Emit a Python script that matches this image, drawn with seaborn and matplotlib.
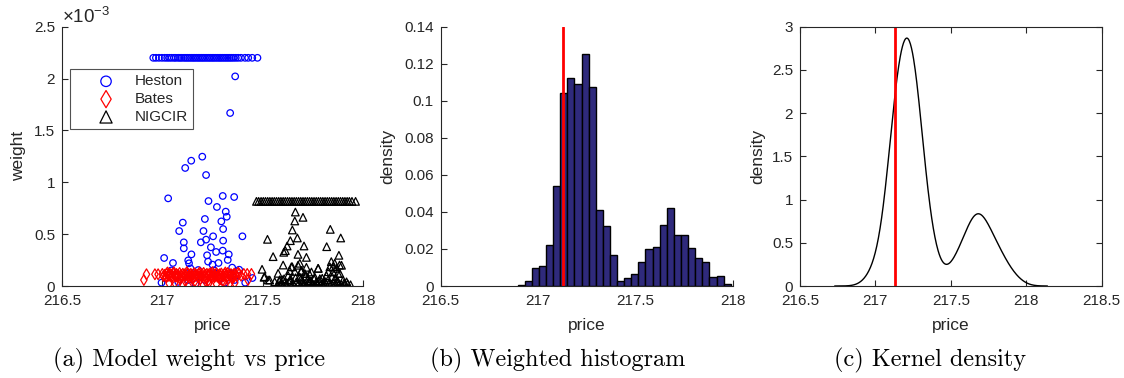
import numpy as np
import pandas as pd
import matplotlib
matplotlib.use("Agg")
import matplotlib.pyplot as plt
import seaborn as sns
from matplotlib.ticker import FuncFormatter, MultipleLocator

# ---------------- data ----------------
# Panel (a): model weights (in units of 1e-3) vs price
heston_x = [216.955, 216.968, 216.983, 216.998, 217.012, 217.024, 217.035, 217.046, 217.058, 217.067,
            217.079, 217.088, 217.097, 217.108, 217.117, 217.126, 217.135, 217.144, 217.153, 217.161,
            217.170, 217.179, 217.187, 217.196, 217.204, 217.213, 217.222, 217.231, 217.239, 217.248,
            217.256, 217.265, 217.274, 217.283, 217.291, 217.300, 217.309, 217.318, 217.327, 217.336,
            217.345, 217.355, 217.366, 217.378, 217.392, 217.412, 217.428, 217.448, 217.474,
            217.363, 217.338, 217.199, 217.144, 217.114, 217.218, 217.029, 217.301, 217.358, 217.230,
            217.272, 217.316, 217.321, 217.212, 217.102, 217.294, 217.205, 217.084, 217.303, 217.399,
            217.253, 217.107, 217.303, 217.218, 217.192, 217.107, 217.242, 217.145, 217.268, 217.301,
            217.331, 217.009, 217.129, 217.326, 217.223, 217.228, 217.053, 217.133, 217.250, 217.280,
            217.140, 217.348, 217.383, 217.257, 217.179, 217.449, 217.413, 216.996, 217.079, 217.212,
            217.311, 217.361, 217.129, 217.165, 217.045, 217.265, 217.190, 217.340]
heston_w = [2.2, 2.2, 2.2, 2.2, 2.2, 2.2, 2.2, 2.2, 2.2, 2.2,
            2.2, 2.2, 2.2, 2.2, 2.2, 2.2, 2.2, 2.2, 2.2, 2.2,
            2.2, 2.2, 2.2, 2.2, 2.2, 2.2, 2.2, 2.2, 2.2, 2.2,
            2.2, 2.2, 2.2, 2.2, 2.2, 2.2, 2.2, 2.2, 2.2, 2.2,
            2.2, 2.2, 2.2, 2.2, 2.2, 2.2, 2.2, 2.2, 2.2,
            2.021, 1.668, 1.247, 1.208, 1.138, 1.070, 0.845, 0.868, 0.858, 0.819,
            0.762, 0.717, 0.668, 0.646, 0.611, 0.623, 0.530, 0.530, 0.549, 0.479,
            0.479, 0.421, 0.437, 0.447, 0.421, 0.363, 0.373, 0.305, 0.328, 0.341,
            0.305, 0.270, 0.247, 0.251, 0.296, 0.235, 0.222, 0.219, 0.206, 0.222,
            0.170, 0.177, 0.157, 0.151, 0.154, 0.077, 0.032, 0.032, 0.040, 0.058,
            0.032, 0.058, 0.058, 0.020, 0.150, 0.120, 0.090, 0.100]

bates_x = [216.908, 216.921, 216.963, 216.979, 217.000, 217.012, 217.021, 217.030, 217.038, 217.046,
           217.054, 217.062, 217.070, 217.078, 217.086, 217.094, 217.102, 217.110, 217.118, 217.126,
           217.134, 217.142, 217.150, 217.158, 217.166, 217.174, 217.182, 217.190, 217.198, 217.206,
           217.214, 217.222, 217.230, 217.238, 217.246, 217.254, 217.262, 217.270, 217.278, 217.286,
           217.294, 217.302, 217.310, 217.318, 217.326, 217.334, 217.342, 217.350, 217.358, 217.366,
           217.383, 217.406, 217.423, 217.444, 217.427,
           217.034, 217.062, 217.100, 217.129, 217.170, 217.204, 217.233, 217.270, 217.306, 217.336,
           217.361, 217.050, 217.090, 217.150, 217.190, 217.245, 217.290, 217.330, 217.115, 217.215,
           217.020, 217.075, 217.140, 217.180, 217.260, 217.320, 217.355, 217.230, 217.160, 217.300,
           217.005, 217.017, 217.033, 217.049, 217.066, 217.082, 217.098, 217.113, 217.129, 217.146,
           217.162, 217.178, 217.194, 217.210, 217.226, 217.242, 217.258, 217.274, 217.290, 217.306,
           217.322, 217.338, 217.354, 217.371, 217.392, 217.026, 217.058, 217.122, 217.186, 217.250,
           217.314, 217.378, 217.087, 217.154, 217.218, 217.282, 217.346]
bates_w = [0.058, 0.113, 0.113, 0.113, 0.116, 0.108, 0.120, 0.105, 0.118, 0.110,
           0.122, 0.104, 0.116, 0.109, 0.125, 0.106, 0.118, 0.112, 0.103, 0.121,
           0.110, 0.117, 0.105, 0.124, 0.113, 0.108, 0.119, 0.102, 0.115, 0.126,
           0.107, 0.117, 0.111, 0.122, 0.104, 0.116, 0.109, 0.123, 0.106, 0.114,
           0.120, 0.103, 0.117, 0.110, 0.125, 0.108, 0.115, 0.104, 0.119, 0.112,
           0.116, 0.116, 0.116, 0.116, 0.058,
           0.026, 0.032, 0.019, 0.000, 0.026, 0.010, 0.032, 0.019, 0.042, 0.026,
           0.032, 0.070, 0.065, 0.072, 0.068, 0.075, 0.066, 0.070, 0.045, 0.048,
           0.085, 0.088, 0.090, 0.082, 0.086, 0.084, 0.080, 0.055, 0.040, 0.050,
           0.095, 0.091, 0.097, 0.093, 0.090, 0.096, 0.092, 0.094, 0.089, 0.097,
           0.093, 0.090, 0.095, 0.091, 0.098, 0.092, 0.094, 0.090, 0.096, 0.093,
           0.091, 0.095, 0.092, 0.094, 0.100, 0.130, 0.132, 0.134, 0.131, 0.133,
           0.130, 0.128, 0.076, 0.078, 0.074, 0.077, 0.075]

nigcir_x = [217.469, 217.480, 217.492, 217.503, 217.514, 217.525, 217.536, 217.547, 217.558, 217.569,
            217.580, 217.591, 217.602, 217.613, 217.624, 217.635, 217.646, 217.657, 217.668, 217.679,
            217.690, 217.701, 217.712, 217.723, 217.734, 217.745, 217.756, 217.767, 217.778, 217.789,
            217.800, 217.811, 217.822, 217.833, 217.844, 217.855, 217.866, 217.877, 217.888, 217.899,
            217.910, 217.921, 217.932, 217.945, 217.963,
            217.663, 217.660, 217.701, 217.648, 217.673, 217.524, 217.837, 217.889, 217.638, 217.706,
            217.622, 217.819, 217.613, 217.605, 217.552, 217.676, 217.718, 217.880, 217.602, 217.647,
            217.685, 217.859, 217.851, 217.497, 217.776, 217.883, 217.577, 217.634, 217.692, 217.733,
            217.827, 217.875, 217.507, 217.535, 217.560,
            217.510, 217.527, 217.585, 217.610, 217.627, 217.635, 217.643, 217.660, 217.668, 217.676,
            217.685, 217.693, 217.700, 217.710, 217.718, 217.727, 217.735, 217.743, 217.760, 217.768,
            217.777, 217.785, 217.793, 217.810, 217.818, 217.835, 217.842, 217.850, 217.860, 217.868,
            217.876, 217.885, 217.893, 217.901, 217.918, 217.590, 217.620, 217.650, 217.700, 217.725,
            217.750, 217.770, 217.800, 217.830, 217.855, 217.880, 217.910, 217.600, 217.690, 217.740,
            217.575, 217.583, 217.596, 217.607, 217.616, 217.631, 217.641, 217.654, 217.664, 217.681,
            217.697, 217.706, 217.715, 217.731, 217.747, 217.756, 217.773, 217.781, 217.797, 217.806,
            217.814, 217.826, 217.839, 217.846, 217.864, 217.872, 217.891, 217.906, 217.924, 217.938]
nigcir_w = [0.816, 0.816, 0.816, 0.816, 0.816, 0.816, 0.816, 0.816, 0.816, 0.816,
            0.816, 0.816, 0.816, 0.816, 0.816, 0.816, 0.816, 0.816, 0.816, 0.816,
            0.816, 0.816, 0.816, 0.816, 0.816, 0.816, 0.816, 0.816, 0.816, 0.816,
            0.816, 0.816, 0.816, 0.816, 0.816, 0.816, 0.816, 0.816, 0.816, 0.816,
            0.816, 0.816, 0.816, 0.816, 0.816,
            0.713, 0.627, 0.662, 0.540, 0.463, 0.450, 0.546, 0.463, 0.437, 0.386,
            0.386, 0.379, 0.341, 0.325, 0.283, 0.305, 0.276, 0.296, 0.202, 0.186,
            0.219, 0.219, 0.186, 0.161, 0.170, 0.202, 0.122, 0.148, 0.138, 0.116,
            0.138, 0.122, 0.084, 0.058, 0.042,
            0.090, 0.058, 0.060, 0.036, 0.100, 0.055, 0.185, 0.140, 0.040, 0.200,
            0.085, 0.150, 0.040, 0.120, 0.180, 0.070, 0.030, 0.135, 0.085, 0.040,
            0.170, 0.070, 0.020, 0.045, 0.100, 0.185, 0.235, 0.135, 0.070, 0.170,
            0.040, 0.120, 0.200, 0.055, 0.040, 0.020, 0.015, 0.025, 0.010, 0.030,
            0.015, 0.025, 0.010, 0.020, 0.030, 0.015, 0.025, 0.060, 0.065, 0.050,
            0.012, 0.045, 0.022, 0.070, 0.008, 0.035, 0.062, 0.018, 0.080, 0.028,
            0.055, 0.012, 0.095, 0.040, 0.020, 0.068, 0.010, 0.050, 0.075, 0.015,
            0.035, 0.060, 0.010, 0.090, 0.025, 0.048, 0.015, 0.030, 0.020, 0.012]

# Panel (b)/(c): weighted histogram (30 equal bins between these edges)
hist_lo, hist_hi = 216.895, 217.990
hist_vals = [0.0003, 0.0027, 0.0099, 0.0106, 0.0221, 0.0542, 0.1040, 0.1125, 0.1089, 0.1251,
             0.1074, 0.0412, 0.0326, 0.0166, 0.0027, 0.0041, 0.0065, 0.0128, 0.0200, 0.0211,
             0.0331, 0.0419, 0.0277, 0.0274, 0.0205, 0.0149, 0.0128, 0.0049, 0.0052, 0.0009]
true_price = 217.13

# ---------------- style ----------------
sns.set_theme(style="white")
plt.rcParams['font.family'] = ['Liberation Sans', 'DejaVu Sans']
plt.rcParams['mathtext.fontset'] = 'custom'
plt.rcParams['mathtext.rm'] = 'Liberation Sans'
plt.rcParams['mathtext.it'] = 'Liberation Sans'
AX = '#262626'
plt.rcParams.update({
    'axes.edgecolor': AX, 'axes.linewidth': 0.8,
    'xtick.color': AX, 'ytick.color': AX,
    'xtick.direction': 'in', 'ytick.direction': 'in',
    'xtick.major.size': 4, 'ytick.major.size': 4,
    'xtick.major.width': 0.8, 'ytick.major.width': 0.8,
    'xtick.major.pad': 6, 'ytick.major.pad': 5,
    'xtick.labelsize': 11, 'ytick.labelsize': 11,
    'axes.labelsize': 12.5, 'axes.labelcolor': AX,
    'xtick.bottom': True, 'ytick.left': True,
})

W, H = 1124, 378
fig = plt.figure(figsize=(W / 100, H / 100), dpi=100)
ax1 = fig.add_axes([62 / W, 92 / H, 301 / W, 259.3 / H])
ax2 = fig.add_axes([440.7 / W, 92 / H, 292 / W, 259.3 / H])
ax3 = fig.add_axes([800 / W, 92 / H, 301.7 / W, 259.3 / H])
gfmt = FuncFormatter(lambda v, p: f'{v:g}')

# ---------------- panel (a) ----------------
sns.scatterplot(x=heston_x, y=heston_w, marker='o', s=22, fc='none', ec='blue',
                linewidth=0.9, ax=ax1, label='Heston')
sns.scatterplot(x=bates_x, y=bates_w, marker='d', s=30, fc='none', ec='red',
                linewidth=0.9, ax=ax1, label='Bates')
sns.scatterplot(x=nigcir_x, y=nigcir_w, marker='^', s=30, fc='none', ec='black',
                linewidth=0.9, ax=ax1, label='NIGCIR')
ax1.set_xlim(216.5, 218)
ax1.set_ylim(0, 2.5)
ax1.xaxis.set_major_locator(MultipleLocator(0.5))
ax1.yaxis.set_major_locator(MultipleLocator(0.5))
ax1.xaxis.set_major_formatter(gfmt)
ax1.yaxis.set_major_formatter(gfmt)
ax1.set_xlabel('price')
ax1.set_ylabel('weight')
ax1.text(0.0, 1.0, r'$\times10^{-3}$', transform=ax1.transAxes, ha='left', va='bottom',
         fontsize=13.5, color=AX)
leg = ax1.legend(loc='upper left', bbox_to_anchor=(0.027, 0.837), frameon=True, fancybox=False,
                 edgecolor=AX, fontsize=11, markerscale=1.6, handletextpad=-0.15,
                 borderpad=0.35, labelspacing=0.25, handlelength=4.0, borderaxespad=0)
leg.get_frame().set_linewidth(0.8)
for sp in ['top', 'right']:
    ax1.spines[sp].set_visible(False)

# ---------------- panel (b) ----------------
edges = list(np.linspace(hist_lo, hist_hi, len(hist_vals) + 1))
centers = [(edges[i] + edges[i + 1]) / 2 for i in range(len(hist_vals))]
hist_df = pd.DataFrame({'price': centers, 'w': hist_vals})
sns.histplot(data=hist_df, x='price', weights='w', bins=edges, stat='count', color='#2F2A7C',
             edgecolor='black', linewidth=1.0, alpha=1, ax=ax2)
ax2.axvline(true_price, color='red', lw=2)
ax2.set_xlim(216.5, 218)
ax2.set_ylim(0, 0.14)
ax2.xaxis.set_major_locator(MultipleLocator(0.5))
ax2.yaxis.set_major_locator(MultipleLocator(0.02))
ax2.xaxis.set_major_formatter(gfmt)
ax2.yaxis.set_major_formatter(gfmt)
ax2.set_xlabel('price')
ax2.set_ylabel('density')
for sp in ['top', 'right']:
    ax2.spines[sp].set_visible(False)

# ---------------- panel (c) ----------------
sns.kdeplot(data=hist_df, x='price', weights='w', bw_method=0.24, cut=10, clip=(216.73, 218.14),
            gridsize=400, color='black', lw=1.0, ax=ax3)
ax3.axvline(true_price, color='red', lw=2)
ax3.set_xlim(216.5, 218.5)
ax3.set_ylim(0, 3)
ax3.xaxis.set_major_locator(MultipleLocator(0.5))
ax3.yaxis.set_major_locator(MultipleLocator(0.5))
ax3.xaxis.set_major_formatter(gfmt)
ax3.yaxis.set_major_formatter(gfmt)
ax3.tick_params(top=True, right=True)
ax3.set_xlabel('price')
ax3.set_ylabel('density')

for ax in (ax1, ax2, ax3):
    ax.xaxis.set_label_coords(0.5, -0.125)
ax1.yaxis.set_label_coords(-0.12, 0.5)
ax2.yaxis.set_label_coords(-0.155, 0.5)
ax3.yaxis.set_label_coords(-0.116, 0.5)

# ---------------- captions ----------------
for xc, txt in [(189, '(a) Model weight vs price'), (558, '(b) Weighted histogram'),
                (930, '(c) Kernel density')]:
    fig.text(xc / W, 1 - 360 / H, txt, family='cmr10', fontsize=17.5, ha='center', va='center',
             color='black')

fig.savefig('out.png', dpi=100)
